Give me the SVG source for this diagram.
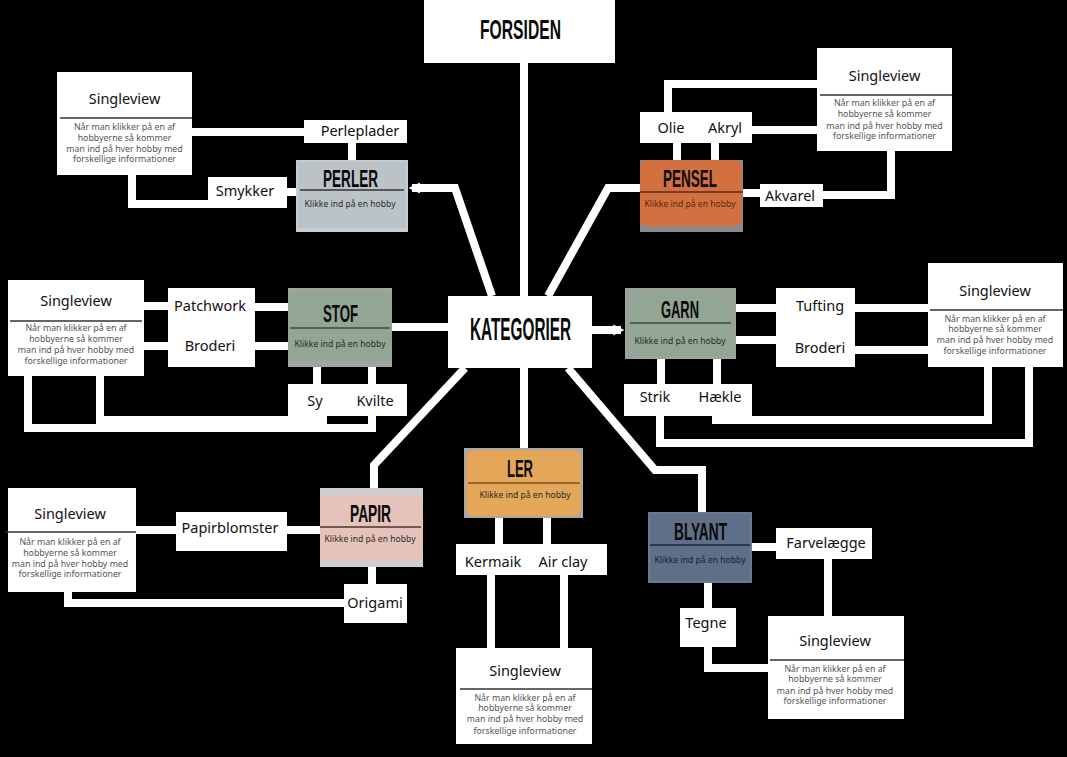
<svg xmlns="http://www.w3.org/2000/svg" width="1067" height="757" viewBox="0 0 1067 757">
<defs>
<style>
.bg{fill:#000}
.conn{fill:none;stroke:#fff;stroke-width:8;stroke-linejoin:miter;stroke-linecap:butt}
.wbox{fill:#fff}
.title{font-family:"Liberation Sans",Arial,sans-serif;font-weight:bold;fill:#0a0a0a;text-anchor:middle}
.sub{font-family:"Noto Sans","Open Sans",sans-serif;font-size:8.6px;fill:#2b2b2b;text-anchor:middle}
.lbl{font-family:"Noto Sans","Open Sans",sans-serif;font-size:14.5px;fill:#111;text-anchor:middle}
.svt{font-family:"Noto Sans","Open Sans",sans-serif;font-size:14.5px;fill:#111;text-anchor:middle}
.body{font-family:"Noto Sans","Open Sans",sans-serif;font-size:8.8px;fill:#555;text-anchor:middle}
.svline{stroke:#333;stroke-width:1.5}
</style>
<marker id="arr" viewBox="0 0 10 10" refX="7" refY="5" markerWidth="1.4" markerHeight="1.8" orient="auto" markerUnits="strokeWidth">
<path d="M0,0 L10,5 L0,10 z" fill="#fff"/>
</marker>
</defs>
<rect class="bg" x="0" y="0" width="1067" height="757"/>

<g id="connectors">
<polyline class="conn" points="524,63 524,296"/>
<polyline class="conn" points="492,296 455,188 412,188" marker-end="url(#arr)"/>
<polyline class="conn" points="548,296 608,188 640,188"/>
<polyline class="conn" points="448,327 392,327"/>
<polyline class="conn" points="592,330 621,330" marker-end="url(#arr)"/>
<polyline class="conn" points="524,368 524,448"/>
<polyline class="conn" points="465,368 374,465 374,488"/>
<polyline class="conn" points="568,368 655,470 702,470 702,512"/>
<!-- perler -->
<polyline class="conn" points="352,143 352,160"/>
<polyline class="conn" points="192,132 304,132"/>
<polyline class="conn" points="287,192 296,192"/>
<polyline class="conn" points="132,175 132,204 208,204"/>
<!-- pensel -->
<polyline class="conn" points="677,143 677,160"/>
<polyline class="conn" points="715,143 715,160"/>
<polyline class="conn" points="668,112 668,84 817,84"/>
<polyline class="conn" points="752,130 817,130"/>
<polyline class="conn" points="743,193 760,193"/>
<polyline class="conn" points="823,195 891,195 891,151"/>
<!-- stof -->
<polyline class="conn" points="255,307 288,307"/>
<polyline class="conn" points="255,346 288,346"/>
<polyline class="conn" points="144,306 168,306"/>
<polyline class="conn" points="144,346 168,346"/>
<polyline class="conn" points="317,367 317,384"/>
<polyline class="conn" points="372,367 372,384"/>
<polyline class="conn" points="100,376 100,420 323,420 323,416"/>
<polyline class="conn" points="28,376 28,428 372,428 372,416"/>
<!-- garn -->
<polyline class="conn" points="736,308 776,308"/>
<polyline class="conn" points="736,340 776,340"/>
<polyline class="conn" points="855,308 928,308"/>
<polyline class="conn" points="855,350 928,350"/>
<polyline class="conn" points="661,359 661,384"/>
<polyline class="conn" points="717,359 717,384"/>
<polyline class="conn" points="716,416 716,420 988,420 988,367"/>
<polyline class="conn" points="660,416 660,443 1029,443 1029,367"/>
<!-- papir -->
<polyline class="conn" points="287,530 320,530"/>
<polyline class="conn" points="136,530 176,530"/>
<polyline class="conn" points="372,567 372,584"/>
<polyline class="conn" points="68,592 68,603 344,603"/>
<!-- ler -->
<polyline class="conn" points="499,517 499,544"/>
<polyline class="conn" points="547,517 547,544"/>
<polyline class="conn" points="491,575 491,648"/>
<polyline class="conn" points="564,575 564,648"/>
<!-- blyant -->
<polyline class="conn" points="752,547 776,547"/>
<polyline class="conn" points="828,559 828,616"/>
<polyline class="conn" points="708,583 708,608"/>
<polyline class="conn" points="708,647 708,668 768,668"/>
</g>

<g id="forsiden">
<rect class="wbox" x="424" y="0" width="191" height="63"/>
<text class="title" x="520.5" y="39" font-size="28" textLength="81" lengthAdjust="spacingAndGlyphs">FORSIDEN</text>
</g>

<g id="kategorier">
<rect class="wbox" x="448" y="296" width="144" height="72"/>
<text class="title" x="520.5" y="340" font-size="31" textLength="101" lengthAdjust="spacingAndGlyphs">KATEGORIER</text>
</g>

<g id="perler">
<rect x="296" y="160" width="112" height="72" fill="#c8ccd0"/>
<rect x="298" y="162" width="108" height="66" fill="#bcc3c7"/>
<line x1="300" y1="190" x2="404" y2="190" stroke="#333" stroke-width="1.5"/>
<text class="title" x="350.5" y="187" font-size="24" textLength="55" lengthAdjust="spacingAndGlyphs">PERLER</text>
<text class="sub" x="350" y="207">Klikke ind på en hobby</text>
</g>

<g id="pensel">
<rect x="640" y="160" width="103" height="72" fill="#8a8a8a"/>
<rect x="640" y="160" width="102" height="66" rx="7" fill="#d2703f"/>
<line x1="640" y1="192" x2="743" y2="192" stroke="#5a2d17" stroke-width="1.5"/>
<text class="title" x="690" y="187" font-size="24" textLength="54" lengthAdjust="spacingAndGlyphs">PENSEL</text>
<text class="sub" x="690" y="207" style="fill:#5b2a14">Klikke ind på en hobby</text>
</g>

<g id="stof">
<rect x="288" y="288" width="104" height="79" fill="#a3a3a3"/>
<rect x="288" y="291" width="104" height="70" rx="4" fill="#93a595"/>
<line x1="290" y1="328" x2="390" y2="328" stroke="#3d4d40" stroke-width="1.5"/>
<text class="title" x="340.5" y="322" font-size="24" textLength="35" lengthAdjust="spacingAndGlyphs">STOF</text>
<text class="sub" x="340" y="347">Klikke ind på en hobby</text>
</g>

<g id="garn">
<rect x="625" y="288" width="111" height="71" fill="#a0a0a0"/>
<rect x="627" y="290" width="107" height="66" rx="3" fill="#93a595"/>
<line x1="630" y1="323" x2="731" y2="323" stroke="#3d4d40" stroke-width="1.5"/>
<text class="title" x="680" y="318" font-size="23" textLength="38" lengthAdjust="spacingAndGlyphs">GARN</text>
<text class="sub" x="680" y="344">Klikke ind på en hobby</text>
</g>

<g id="ler">
<rect x="464" y="448" width="119" height="70" fill="#a8a8a8"/>
<rect x="466" y="450" width="115" height="66" rx="7" fill="#e4a659"/>
<line x1="468" y1="483" x2="580" y2="483" stroke="#7b5321" stroke-width="1.5"/>
<text class="title" x="520" y="477" font-size="23" textLength="26" lengthAdjust="spacingAndGlyphs">LER</text>
<text class="sub" x="525" y="498">Klikke ind på en hobby</text>
</g>

<g id="papir">
<rect x="320" y="488" width="103" height="79" fill="#cfcfcf"/>
<rect x="320" y="495" width="103" height="66" rx="7" fill="#e5c2ba"/>
<line x1="320" y1="527" x2="421" y2="527" stroke="#4a3430" stroke-width="1.5"/>
<text class="title" x="370.5" y="522" font-size="24" textLength="41" lengthAdjust="spacingAndGlyphs">PAPIR</text>
<text class="sub" x="370" y="542">Klikke ind på en hobby</text>
</g>

<g id="blyant">
<rect x="648" y="512" width="104" height="71" fill="#6a7990"/>
<rect x="650" y="514" width="100" height="67" fill="#5f6f88"/>
<line x1="650" y1="545" x2="750" y2="545" stroke="#1e2535" stroke-width="1.5"/>
<text class="title" x="700.5" y="540" font-size="24" textLength="53" lengthAdjust="spacingAndGlyphs">BLYANT</text>
<text class="sub" x="700" y="563" style="fill:#1a2030">Klikke ind på en hobby</text>
</g>

<!-- label boxes -->
<g id="perleplader"><rect class="wbox" x="304" y="120" width="103" height="23"/><text class="lbl" x="360" y="136">Perleplader</text></g>
<g id="smykker"><rect class="wbox" x="208" y="177" width="79" height="31"/><text class="lbl" x="245" y="196">Smykker</text></g>
<g id="olie-akryl"><rect class="wbox" x="640" y="112" width="112" height="31"/><text class="lbl" x="671" y="133">Olie</text><text class="lbl" x="725" y="133">Akryl</text></g>
<g id="akvarel"><rect class="wbox" x="760" y="184" width="63" height="23"/><text class="lbl" x="790" y="201">Akvarel</text></g>
<g id="patchwork-broderi"><rect class="wbox" x="168" y="288" width="87" height="79"/><text class="lbl" x="210" y="311">Patchwork</text><text class="lbl" x="210" y="351">Broderi</text></g>
<g id="tufting-broderi"><rect class="wbox" x="776" y="288" width="79" height="79"/><text class="lbl" x="820" y="311">Tufting</text><text class="lbl" x="820" y="353">Broderi</text></g>
<g id="sy-kvilte"><rect class="wbox" x="288" y="384" width="119" height="32"/><text class="lbl" x="315" y="406">Sy</text><text class="lbl" x="375" y="406">Kvilte</text></g>
<g id="strik-haekle"><rect class="wbox" x="624" y="384" width="128" height="32"/><text class="lbl" x="655" y="402">Strik</text><text class="lbl" x="720" y="402">Hækle</text></g>
<g id="papirblomster"><rect class="wbox" x="176" y="512" width="111" height="39"/><text class="lbl" x="230" y="533">Papirblomster</text></g>
<g id="origami"><rect class="wbox" x="344" y="584" width="63" height="39"/><text class="lbl" x="375" y="608">Origami</text></g>
<g id="kermaik-airclay"><rect class="wbox" x="456" y="544" width="151" height="31"/><text class="lbl" x="493" y="567">Kermaik</text><text class="lbl" x="563" y="567">Air clay</text></g>
<g id="farvelaegge"><rect class="wbox" x="776" y="528" width="96" height="31"/><text class="lbl" x="826" y="548">Farvelægge</text></g>
<g id="tegne"><rect class="wbox" x="680" y="608" width="56" height="39"/><text class="lbl" x="706" y="628">Tegne</text></g>

<!-- singleview boxes -->
<g id="singleview-perler">
<rect class="wbox" x="57" y="72" width="135" height="103"/>
<line class="svline" x1="60" y1="118" x2="192" y2="118"/>
<text class="svt" x="124.5" y="104">Singleview</text>
<text class="body" x="124.5" y="130">Når man klikker på en af</text>
<text class="body" x="124.5" y="141">hobbyerne så kommer</text>
<text class="body" x="124.5" y="152">man ind på hver hobby med</text>
<text class="body" x="124.5" y="162">forskellige informationer</text>
</g>
<g id="singleview-pensel">
<rect class="wbox" x="817" y="48" width="135" height="103"/>
<line class="svline" x1="820" y1="95" x2="952" y2="95"/>
<text class="svt" x="884.5" y="81">Singleview</text>
<text class="body" x="884.5" y="106">Når man klikker på en af</text>
<text class="body" x="884.5" y="117">hobbyerne så kommer</text>
<text class="body" x="884.5" y="129">man ind på hver hobby med</text>
<text class="body" x="884.5" y="139">forskellige informationer</text>
</g>
<g id="singleview-stof">
<rect class="wbox" x="8" y="280" width="136" height="96"/>
<line class="svline" x1="10" y1="321" x2="142" y2="321"/>
<text class="svt" x="76" y="306">Singleview</text>
<text class="body" x="76" y="331">Når man klikker på en af</text>
<text class="body" x="76" y="342">hobbyerne så kommer</text>
<text class="body" x="76" y="353">man ind på hver hobby med</text>
<text class="body" x="76" y="364">forskellige informationer</text>
</g>
<g id="singleview-garn">
<rect class="wbox" x="928" y="263" width="135" height="104"/>
<line class="svline" x1="930" y1="310" x2="1063" y2="310"/>
<text class="svt" x="995" y="296">Singleview</text>
<text class="body" x="995" y="322">Når man klikker på en af</text>
<text class="body" x="995" y="332">hobbyerne så kommer</text>
<text class="body" x="995" y="343">man ind på hver hobby med</text>
<text class="body" x="995" y="354">forskellige informationer</text>
</g>
<g id="singleview-papir">
<rect class="wbox" x="8" y="488" width="128" height="104"/>
<line class="svline" x1="5" y1="532" x2="136" y2="532"/>
<text class="svt" x="70" y="519">Singleview</text>
<text class="body" x="70" y="545">Når man klikker på en af</text>
<text class="body" x="70" y="556">hobbyerne så kommer</text>
<text class="body" x="70" y="567">man ind på hver hobby med</text>
<text class="body" x="70" y="577">forskellige informationer</text>
</g>
<g id="singleview-ler">
<rect class="wbox" x="456" y="648" width="136" height="96"/>
<line class="svline" x1="460" y1="689" x2="592" y2="689"/>
<text class="svt" x="525" y="676">Singleview</text>
<text class="body" x="525" y="701">Når man klikker på en af</text>
<text class="body" x="525" y="711">hobbyerne så kommer</text>
<text class="body" x="525" y="722">man ind på hver hobby med</text>
<text class="body" x="525" y="734">forskellige informationer</text>
</g>
<g id="singleview-blyant">
<rect class="wbox" x="768" y="616" width="136" height="103"/>
<line class="svline" x1="770" y1="660" x2="904" y2="660"/>
<text class="svt" x="835" y="646">Singleview</text>
<text class="body" x="835" y="672">Når man klikker på en af</text>
<text class="body" x="835" y="682">hobbyerne så kommer</text>
<text class="body" x="835" y="694">man ind på hver hobby med</text>
<text class="body" x="835" y="704">forskellige informationer</text>
</g>
</svg>
